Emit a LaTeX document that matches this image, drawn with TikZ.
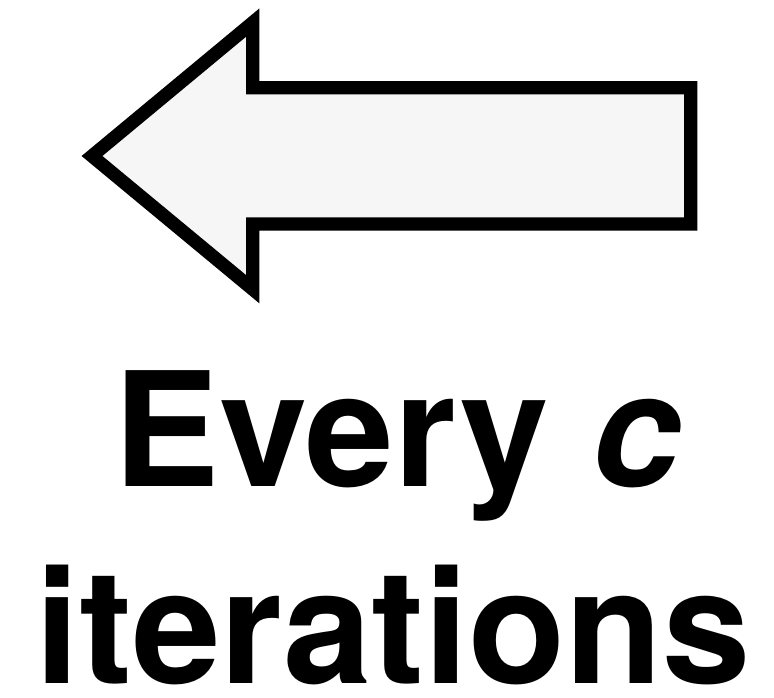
\documentclass[tikz,border=0pt]{standalone}
\usepackage{fontspec}
\setmainfont{TeX Gyre Heros}
\begin{document}
\begin{tikzpicture}[x=1pt,y=-1pt,
  bigtext/.style={font=\fontsize{159}{190}\selectfont\bfseries, inner sep=0pt, anchor=base},
  bigarrow/.style={line width=13.3pt, fill={rgb,255:red,246;green,246;blue,246}, miter limit=10}]
\useasboundingbox (0,0) rectangle (774,698);
\fill[white] (0,0) rectangle (774,698);
\draw[bigarrow]
  (92,156) -- (252.7,22.6) -- (252.7,87.7) -- (690.7,87.7) -- (690.7,224) -- (252.7,224) -- (252.7,289.2) -- cycle;
\node[bigtext] (l1) at (397.5,486) {Every \textit{c}};
\node[bigtext] (l2) at (393.5,683) {iterations};
\end{tikzpicture}
\end{document}
